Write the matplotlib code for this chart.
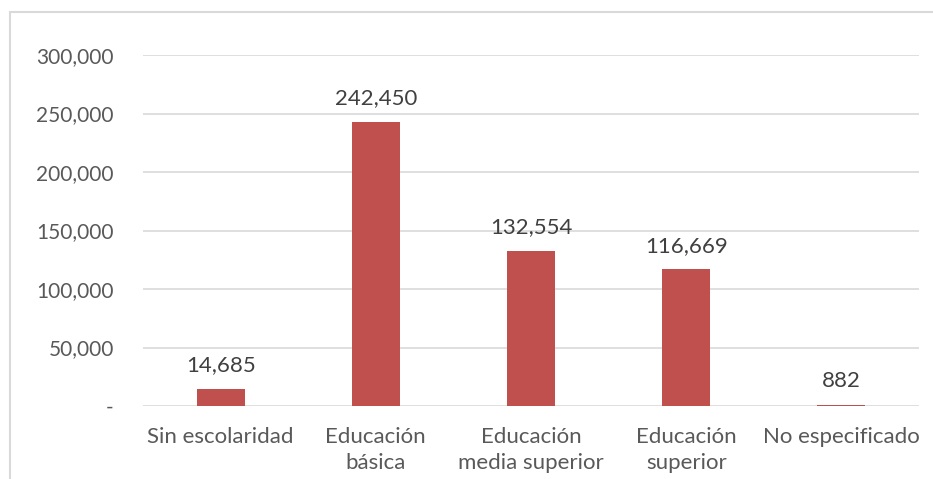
import matplotlib.pyplot as plt
from matplotlib.patches import Rectangle
from matplotlib.ticker import FuncFormatter

plt.rcParams['font.family'] = ['Lato', 'DejaVu Sans']

categorias = ['Sin escolaridad', 'Educación\nbásica', 'Educación\nmedia superior',
              'Educación\nsuperior', 'No especificado']
valores = [14685, 242450, 132554, 116669, 882]
yticks = [0, 50000, 100000, 150000, 200000, 250000, 300000]

color_barra = '#C0504D'
gris_texto = '#595959'

fig = plt.figure(figsize=(9.33, 4.79), dpi=100)
ax = fig.add_axes([143 / 933, 1 - 406 / 479, (919 - 143) / 933, (406 - 55) / 479])

x = range(len(categorias))
barras = ax.bar(x, valores, width=0.31, color=color_barra, zorder=3)

# etiquetas de datos
for xi, v in zip(x, valores):
    ax.annotate(f'{v:,}', (xi, v), xytext=(0, 10), textcoords='offset points',
                ha='center', va='bottom', fontsize=16, color='#404040')

ax.set_xlim(-0.5, len(categorias) - 0.5)
ax.set_ylim(0, 300000)
ax.set_yticks(yticks)
ax.yaxis.set_major_formatter(FuncFormatter(lambda v, p: '-' if v == 0 else f'{int(v):,}'))
ax.set_xticks(list(x))
ax.set_xticklabels(categorias, linespacing=1.4)

ax.grid(axis='y', color='#D9D9D9', linewidth=1.2, zorder=0)
for s in ax.spines.values():
    s.set_visible(False)
ax.tick_params(axis='y', length=0, pad=21, labelsize=15, labelcolor=gris_texto)
ax.tick_params(axis='x', length=0, pad=15, labelsize=16, labelcolor=gris_texto)

# marco del gráfico
fig.patches.append(Rectangle((10 / 933, -0.1), 1.2, 1 - 12 / 479 + 0.1,
                             transform=fig.transFigure, fill=False,
                             edgecolor='#D9D9D9', linewidth=1.5))

fig.savefig('out.png', dpi=100)
